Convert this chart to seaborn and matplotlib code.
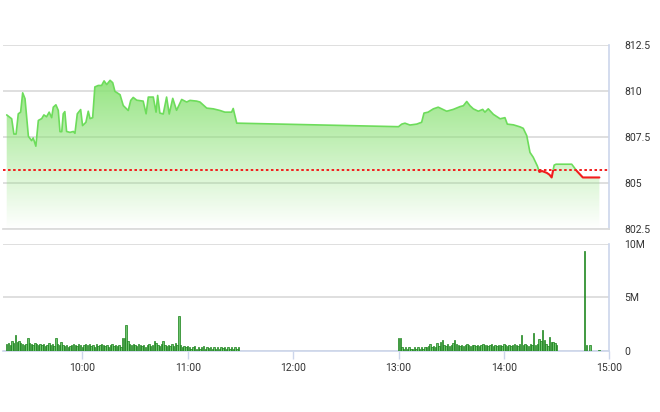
import numpy as np
import pandas as pd
import seaborn as sns
import matplotlib
matplotlib.use("Agg")
import matplotlib.pyplot as plt
import matplotlib.dates as mdates
import matplotlib.transforms as mtransforms
from matplotlib.patches import Rectangle
from matplotlib.ticker import FixedLocator, FuncFormatter

# ---- data --------------------------------------------------------------
price_times = [
    "09:17:00", "09:19:50", "09:21:05", "09:22:20", "09:23:35", "09:24:55",
    "09:26:05", "09:27:25", "09:29:20", "09:31:10", "09:32:05", "09:33:35",
    "09:35:00", "09:36:55", "09:38:10", "09:39:40", "09:41:10", "09:42:35",
    "09:43:30", "09:45:00", "09:46:20", "09:47:20", "09:48:20", "09:49:10",
    "09:50:05", "09:51:05", "09:53:00", "09:54:55", "09:55:50", "09:57:10",
    "09:59:05", "10:00:10", "10:02:05", "10:03:25", "10:04:25", "10:05:55",
    "10:07:10", "10:09:05", "10:11:00", "10:12:25", "10:13:55", "10:15:50",
    "10:17:20", "10:18:35", "10:21:30", "10:23:20", "10:26:10", "10:27:35",
    "10:29:00", "10:31:00", "10:34:40", "10:36:20", "10:37:35", "10:40:25",
    "10:42:00", "10:42:55", "10:44:10", "10:46:05", "10:48:00", "10:49:30",
    "10:51:30", "10:53:40", "10:56:35", "10:59:25", "11:01:20", "11:05:05",
    "11:07:00", "11:10:50", "11:14:35", "11:18:25", "11:21:10", "11:25:00",
    "11:25:55", "11:27:55", "11:29:00",
    "13:00:00", "13:01:50", "13:03:40", "13:06:30", "13:10:20", "13:13:10",
    "13:14:30", "13:16:50", "13:19:50", "13:22:35", "13:24:35", "13:27:25",
    "13:31:10", "13:35:00", "13:36:55", "13:38:50", "13:40:40", "13:42:35",
    "13:45:25", "13:47:55", "13:49:10", "13:51:05", "13:54:00", "13:57:50",
    "14:00:35", "14:01:55", "14:05:25", "14:09:10", "14:11:00", "14:13:00",
    "14:14:50", "14:16:40", "14:19:00", "14:20:10", "14:21:40", "14:24:25",
    "14:25:55", "14:27:10", "14:28:35", "14:29:40", "14:38:35", "14:41:30",
    "14:44:55", "14:54:20",
]
price_values = [
    808.70, 808.49, 807.66, 807.66, 808.76, 808.85,
    809.90, 809.58, 807.54, 807.30, 807.45, 807.00,
    808.40, 808.50, 808.70, 808.60, 808.85, 808.55,
    809.12, 809.25, 808.95, 807.79, 807.79, 808.76,
    808.88, 807.80, 807.75, 807.80, 807.70, 808.76,
    808.99, 808.12, 808.30, 808.90, 808.50, 808.55,
    810.22, 810.30, 810.30, 810.55, 810.35, 810.58,
    810.45, 809.98, 809.80, 809.21, 808.94, 809.49,
    809.65, 809.50, 809.45, 808.76, 809.67, 809.67,
    808.85, 809.76, 808.80, 808.75, 809.67, 808.75,
    809.60, 808.95, 809.54, 809.40, 809.49, 809.45,
    809.40, 809.07, 809.03, 808.94, 808.85, 808.85,
    809.05, 808.25, 808.25,
    808.06, 808.20, 808.25, 808.15, 808.20, 808.30,
    808.80, 808.85, 809.03, 809.12, 809.03, 808.90,
    809.00, 809.15, 809.20, 809.43, 809.20, 809.03,
    808.90, 809.00, 808.85, 809.03, 808.73, 808.49,
    808.55, 808.20, 808.16, 808.05, 807.97, 807.57,
    806.66, 806.40, 805.93, 805.60, 805.65, 805.55,
    805.45, 805.30, 805.97, 806.02, 806.02, 805.65,
    805.30, 805.30,
]
ref_price = 805.71

# one-minute volume (millions), morning session from 09:17
vol_am_start = "09:17"
vol_am = [
    0.6, 0.7, 0.5, 0.9, 0.7, 1.5, 0.8, 0.9, 0.7, 0.6, 0.5, 0.6,
    1.15, 0.7, 0.6, 0.5, 0.7, 0.6, 0.5, 0.6, 0.5, 0.6, 0.4, 0.5,
    0.7, 0.5, 0.6, 0.4, 1.15, 0.6, 0.5, 0.8, 0.5, 0.4, 0.5, 0.3,
    0.4, 0.5, 0.6, 0.5, 0.4, 0.6, 0.5, 0.3, 0.5, 0.6, 0.5, 0.6,
    0.4, 0.5, 0.3, 0.6, 0.4, 0.5, 0.6, 0.5, 0.4, 0.5, 0.3, 0.5,
    0.6, 0.4, 0.5, 0.4, 0.5, 0.3, 1.2, 1.15, 2.4, 0.9, 0.6, 0.5,
    0.6, 0.5, 0.4, 0.6, 0.5, 0.4, 0.5, 0.3, 0.5, 0.6, 0.4, 0.5,
    0.9, 0.7, 0.5, 0.4, 0.6, 0.9, 0.5, 0.4, 0.5, 0.4, 0.6, 0.4,
    0.75, 0.5, 3.25, 0.5, 0.3, 0.4, 0.3, 0.4, 0.3, 0.2, 0.3, 0.4,
    0.2, 0.3, 0.2, 0.3, 0.4, 0.2, 0.3, 0.25, 0.3, 0.2, 0.35, 0.2,
    0.3, 0.2, 0.3, 0.25, 0.3, 0.2, 0.3, 0.2, 0.3, 0.2, 0.35, 0.2,
    0.3,
]
# afternoon session from 13:00
vol_pm_start = "13:00"
vol_pm = [
    1.2, 1.15, 0.3, 0.2, 0.3, 0.2, 0.3, 0.2, 0.2, 0.3, 0.2, 0.3,
    0.2, 0.3, 0.2, 0.3, 0.3, 0.4, 0.6, 0.3, 0.4, 0.3, 0.7, 0.4,
    0.8, 1.0, 0.5, 0.4, 0.6, 0.4, 0.5, 0.7, 1.0, 0.6, 0.5, 0.4,
    0.5, 0.4, 0.5, 0.6, 0.5, 0.4, 0.5, 0.5, 0.4, 0.5, 0.4, 0.5,
    0.6, 0.5, 0.5, 0.4, 0.5, 0.6, 0.4, 0.5, 0.4, 0.5, 0.5, 0.4,
    0.6, 0.5, 0.4, 0.5, 0.4, 0.5, 0.6, 0.5, 0.4, 0.6, 1.5, 0.5,
    0.6, 0.5, 0.4, 0.6, 0.5, 1.7, 0.5, 0.6, 1.05, 0.9, 1.95, 1.0,
    0.6, 0.4, 1.3, 0.8, 0.8, 0.7, 0.5,
]
# closing auction prints
vol_atc_times = ["14:46", "14:47", "14:49", "14:54"]
vol_atc = [9.3, 0.5, 0.5, 0.1]

price_ticks = [802.5, 805, 807.5, 810, 812.5]
vol_ticks = [0, 5, 10]
hour_ticks = ["10:00", "11:00", "12:00", "13:00", "14:00", "15:00"]

# ---- build frames --------------------------------------------------------
day = "2020-01-02 "
price_df = pd.DataFrame({
    "time": pd.to_datetime([day + t for t in price_times]),
    "price": price_values,
})
vol_time = list(pd.date_range(day + vol_am_start, periods=len(vol_am), freq="min")) \
    + list(pd.date_range(day + vol_pm_start, periods=len(vol_pm), freq="min")) \
    + list(pd.to_datetime([day + t for t in vol_atc_times]))
vol_df = pd.DataFrame({"time": vol_time, "volume": vol_am + vol_pm + vol_atc})

x0 = pd.Timestamp(day + "09:15")
x1 = pd.Timestamp(day + "15:00")

# ---- figure --------------------------------------------------------------
sns.set_style("white")
plt.rcParams["font.family"] = ["Roboto", "DejaVu Sans"]

fig = plt.figure(figsize=(6.6, 4.12), dpi=100)
ax1 = fig.add_axes([0.00485, 0.4442, 0.9184, 0.4466])
ax2 = fig.add_axes([0.00485, 0.1488, 0.9184, 0.2590], sharex=ax1)

grid_col = "#dcdcdc"
axis_col = "#ccd6eb"
text_col = "#333333"
green = "#6ddc5b"
red = "#f21d1d"

# gradient fill under the price line
poly = ax1.fill_between(price_df["time"], price_df["price"], 802.5,
                        facecolor="none", edgecolor="none")
yy = np.linspace(802.5, 812.5, 256)
alpha = np.clip((yy - 802.5) / 7.5 * 0.85, 0, 1)
base = np.array([0.55, 0.89, 0.47])
grad = np.ones((256, 1, 4))
grad[:, 0, :3] = base
grad[:, 0, 3] = alpha
xn0, xn1 = mdates.date2num(x0), mdates.date2num(x1)
im = ax1.imshow(grad, extent=[xn0, xn1, 802.5, 812.5], origin="lower",
                aspect="auto", zorder=1)
im.set_clip_path(poly.get_paths()[0], transform=ax1.transData)

# price line: green above reference, red below
sns.lineplot(data=price_df, x="time", y="price", ax=ax1, color=green,
             linewidth=1.2, zorder=3, sort=False)
sns.lineplot(data=price_df, x="time", y="price", ax=ax1, color=red,
             linewidth=1.5, zorder=4, sort=False)
blend = mtransforms.blended_transform_factory(ax1.transAxes, ax1.transData)
up_clip = Rectangle((0, ref_price), 1, 50, transform=blend)
dn_clip = Rectangle((0, ref_price - 50), 1, 50, transform=blend)
ax1.lines[0].set_clip_path(up_clip)
ax1.lines[1].set_clip_path(dn_clip)

ax1.axhline(ref_price, color=red, linewidth=1.4, linestyle=(0, (1.3, 1.3)),
            zorder=5)

ax1.set_ylim(802.5, 812.5)
ax1.yaxis.set_major_locator(FixedLocator(price_ticks))
ax1.yaxis.set_major_formatter(FuncFormatter(lambda v, p: f"{v:g}"))
ax1.grid(axis="y", color=grid_col, linewidth=1.3)
ax1.set_axisbelow(True)

# volume bars
bar_w = 0.8 / 1440
ax2.bar(vol_df["time"], vol_df["volume"], width=bar_w, color="#6fc26f",
        edgecolor="#157f15", linewidth=0.5, zorder=3)
ax2.set_ylim(0, 10)
ax2.yaxis.set_major_locator(FixedLocator(vol_ticks))
ax2.yaxis.set_major_formatter(
    FuncFormatter(lambda v, p: "0" if v == 0 else f"{v:g}M"))
ax2.grid(axis="y", color=grid_col, linewidth=1.3)
ax2.set_axisbelow(True)

for ax in (ax1, ax2):
    ax.set_xlabel("")
    ax.set_ylabel("")
    ax.yaxis.tick_right()
    ax.tick_params(axis="y", length=0, pad=11, labelsize=7.5, labelcolor=text_col)
    for s in ("left", "top"):
        ax.spines[s].set_visible(False)
    ax.spines["right"].set_color(axis_col)
    ax.spines["right"].set_linewidth(1.2)

ax1.spines["bottom"].set_color(grid_col)
ax1.spines["bottom"].set_linewidth(1.3)
ax1.tick_params(axis="x", bottom=False, labelbottom=False)
ax2.spines["bottom"].set_color(axis_col)
ax2.spines["bottom"].set_linewidth(1.2)

ax2.set_xlim(x0, x1)
ax2.xaxis.set_major_locator(FixedLocator(
    mdates.date2num(pd.to_datetime([day + h for h in hour_ticks]))))
ax2.xaxis.set_major_formatter(mdates.DateFormatter("%H:%M"))
ax2.tick_params(axis="x", bottom=True, length=6, width=1, color=axis_col,
                pad=3, labelsize=7.5, labelcolor=text_col)

fig.savefig("out.png", dpi=100)
